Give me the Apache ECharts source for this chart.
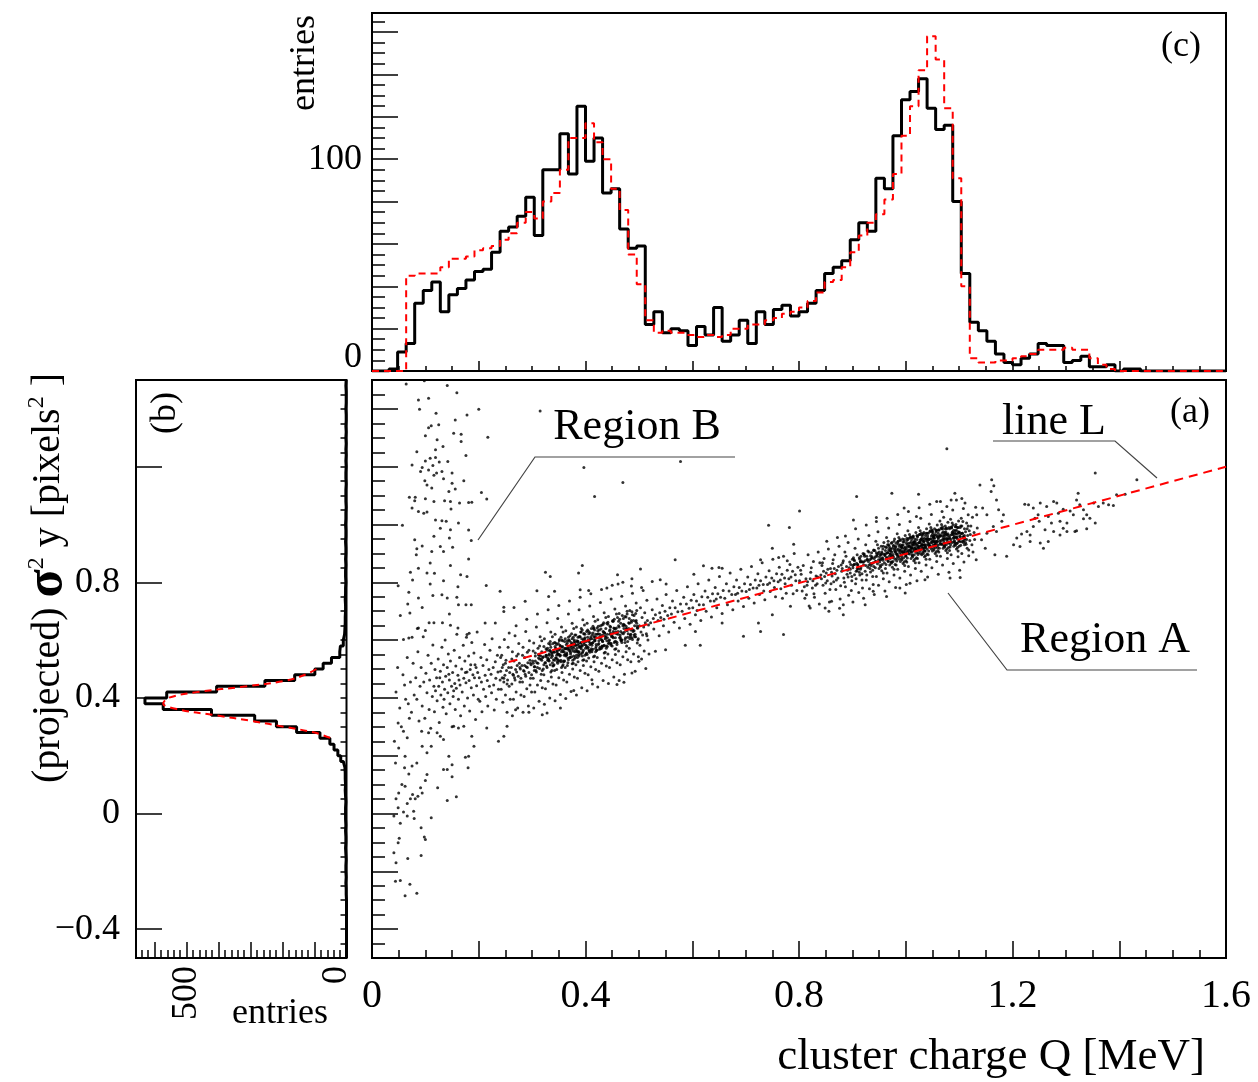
<!DOCTYPE html>
<html><head><meta charset="utf-8">
<script src="https://cdn.jsdelivr.net/npm/echarts@6/dist/echarts.min.js"></script>
<style>html,body{margin:0;padding:0;background:#fff}#c{width:1258px;height:1082px}</style>
</head><body><div id="c"></div>
<script>
// ---------- DATA ----------
// (c) top histogram: cluster charge Q, 100 bins of 0.016 MeV from 0
const topBinLo = 0, topBinW = 0.016;
const topBlack = [0,0,1,9,13,32,38,42,28,36, 39,43,47,48,56,66,68,73,82,64, 95,95,112,93,125,99,110,84,86,67, 58,59,22,28,18,20,19,12,21,17, 30,14,17,24,13,28,22,29,31,26, 28,32,38,46,49,52,62,70,66,91, 86,111,128,132,138,124,114,116,80,46, 23,19,14,8,4,3,6,8,13,12, 12,4,5,7,2,2,3,0,1,1, 0,0,0,0,0,0,0,0,0,0];
const topRed = [0,0,0,0,45,46,46,46,49,53, 53,54,57,58,59,62,65,70,75,72, 80,84,95,110,110,117,108,100,86,76, 55,41,24,18,19,18,18,17,16,17, 16,17,20,20,22,22,24,25,27,28, 30,33,37,42,43,49,56,64,70,74, 81,93,111,125,142,158,147,124,91,40, 6,4,4,5,5,6,7,8,10,10, 10,11,10,10,6,3,1,0,0,0, 0,0,0,0,0,0,0,0,0,0];
// (b) side histogram: projected sigma^2_y, 100 bins of 0.02 from -0.5
const sideBinLo = -0.5, sideBinW = 0.02;
const sideBlack = [0,0,0,0,0,0,0,0,0,0, 1,1,2,1,2,2,1,2,3,2, 2,3,2,3,3,3,2,3,4,3, 4,4,5,10,18,27,39,52,83,156, 219,287,422,573,630,562,406,255,162,99, 73,47,21,19,10,6,5,4,4,3, 3,4,3,3,2,3,3,2,3,2, 2,3,2,2,3,2,2,1,2,2, 2,1,2,2,1,2,1,2,1,2, 1,2,1,1,2,1,1,1,2,1];
const sideRedV = [0.50,0.48,0.46,0.44,0.42,0.40,0.38,0.36,0.34,0.32,0.30,0.28,0.26];
const sideRedN = [94,130,187,313,469,557,573,525,410,295,195,100,47];
// line L (fit)
const lineLQ = [0.256, 1.6];
const lineLV = [0.524, 1.2];
// tick labels
const mainXLabels = [0, 0.4, 0.8, 1.2, 1.6];
const sideYLabels = [-0.4, 0, 0.4, 0.8];
const topYLabels = [0, 100];
const sideXLabels = [0, 500];
// (a) scatter points, flat [Q, sigma2] pairs in units of 1/1000
const regionB = [64,1486,98,1497,141,1481,159,1456,87,1431,106,1437,89,1399,200,1399,120,1385,111,1342,125,1345,106,1335,156,1362,178,1379,100,1307,153,1316,167,1312,217,1302,167,1287,122,1293,133,1270,119,1259,84,1252,176,1239,100,1220,109,1229,119,1232,126,1216,142,1218,75,1206,94,1197,114,1204,91,1183,106,1189,131,1183,150,1178,121,1178,172,1151,99,1151,116,1170,134,1158,103,1137,150,1143,112,1126,144,1114,156,1123,205,1111,181,1076,187,1077,164,1074,147,1080,136,1082,100,1089,70,1094,81,1094,80,1082,116,1080,215,1088,75,1057,87,1045,97,1039,103,1043,148,1054,119,1016,131,1013,139,1011,128,987,147,982,162,1005,181,981,57,997,116,959,80,947,145,953,186,945,84,916,94,926,112,907,128,924,134,907,151,921,181,881,83,895,109,867,147,858,72,835,87,849,103,832,117,831,166,826,178,820,49,788,76,808,109,794,134,805,161,785,214,789,240,769,69,766,87,746,114,754,131,757,141,746,159,748,67,725,94,713,71,694,145,690,162,722,176,722,186,722,247,714,247,699,53,685,107,660,116,660,132,660,87,642,100,633,147,651,161,642,178,619,182,624,212,659,231,659,59,602,69,607];
const sprayLow = [49,313,59,285,66,262,42,250,50,227,62,198,44,175,61,158,75,164,84,175,94,233,103,210,111,233,128,267,122,279,134,256,106,279,153,302,162,296,172,302,187,267,191,233,181,198,215,296,253,302,247,267,237,250,144,198,134,152,141,152,150,169,150,127,103,135,100,114,91,89,94,71,86,60,81,51,76,66,72,51,66,35,69,137,62,94,56,100,50,71,45,51,41,-9,49,20,53,-34,51,-86,49,-101,59,5,66,-9,78,8,79,-17,92,-49,100,-90,98,-81,111,-15,123,89,141,45,158,58,180,158,175,195,41,-136,45,-170,44,-234,53,-232,71,-245,62,-285,84,-276,67,-156,92,-145];
const leftMid = [45,420,52,365,58,480,63,395,66,540,70,330,72,455,75,610,48,505,55,300,61,445,68,380,77,520,79,410,74,350,
82,470,84,395,86,560,88,320,90,440,92,505,94,372,96,612,97,455,99,330,101,485,103,418,105,548,107,360,108,462,110,295,111,520,113,405,114,583,116,440,117,352,118,498,119,425,85,640,93,285,
121,470,122,390,124,535,125,440,126,315,128,492,129,410,131,575,132,455,133,368,134,515,136,430,137,600,138,475,139,345,141,505,142,418,143,552,145,462,146,380,147,528,149,440,150,300,151,488,152,405,154,565,155,450,156,360,157,510,158,433,159,620,127,470,135,395,144,482,153,425,
161,478,162,395,164,540,165,445,166,338,168,500,169,420,171,582,172,468,173,372,174,528,176,452,177,610,178,490,179,400,181,545,182,460,183,355,185,515,186,435,187,592,189,480,190,410,191,555,192,470,194,325,195,505,196,442,197,628,198,488,199,395,163,462,175,488,184,498,193,515,
201,470,202,388,204,540,205,455,206,352,208,512,209,430,211,585,212,478,213,405,215,532,216,460,217,372,219,498,220,440,221,565,223,482,224,418,225,605,227,505,228,445,229,358,231,525,232,468,233,395,235,548,236,490,237,430,239,575,240,462];
const cluster1 = [241,492,242,430,243,548,244,470,245,385,246,515,247,455,248,602,249,478,250,410,251,530,252,495,253,350,254,462,255,575,256,505,257,440,258,488,259,395,241,540,244,505,247,468,250,520,253,448,257,625,
261,505,262,448,263,560,264,482,265,395,266,528,267,470,268,615,269,498,270,420,271,545,272,512,273,365,274,475,275,588,276,520,277,455,278,500,279,410,262,535,265,478,268,462,271,490,274,552,277,505,279,468,263,338,270,650,
281,512,282,455,283,575,284,495,285,405,286,540,287,482,288,630,289,508,290,432,291,558,292,522,293,372,294,488,295,598,296,530,297,468,298,515,299,420,282,548,285,492,288,475,291,505,294,565,297,520,299,480,283,350,290,672,286,512,296,445,
301,528,302,468,303,590,304,508,305,420,306,555,307,495,308,645,309,522,310,445,311,572,312,538,313,388,314,502,315,612,316,545,317,482,318,530,319,435,302,562,305,508,308,490,311,520,314,580,317,535,319,495,303,365,310,690,306,528,316,460,313,548,318,598,
321,542,322,480,323,605,324,522,325,432,326,570,327,510,328,660,329,538,330,458,331,588,332,552,333,400,334,515,335,628,336,560,337,495,338,545,339,448,322,578,325,522,328,505,331,535,334,595,337,550,339,510,323,378,330,705,326,542,336,472,333,565,338,612,321,500,327,548,332,528,335,490,329,572,340,532,
341,558,342,495,343,620,344,538,345,445,346,585,347,525,348,675,349,552,350,470,351,602,352,568,353,412,354,530,355,645,356,575,357,510,358,560,359,462,342,592,345,538,348,520,351,550,354,610,357,565,359,525,343,390,350,720,346,558,356,488,353,580,358,628,341,515,347,562,352,545,355,505,349,588,360,548,344,572,351,528,357,598,346,498,
361,570,362,505,363,632,364,548,365,455,366,598,367,538,368,690,369,565,370,482,371,615,372,580,373,422,374,542,375,658,376,588,377,520,378,572,379,472,362,605,365,550,368,532,371,562,374,622,377,578,379,535,363,398,370,735,366,570,376,500,373,592,378,640,361,528,367,575,372,558,375,518,369,600,380,560,364,585,371,540,377,610,366,512,362,552,374,568,379,595,
381,582,382,515,383,645,384,560,385,468,386,610,387,550,388,705,389,578,390,495,391,628,392,592,393,435,394,555,395,670,396,600,397,532,398,585,399,485,382,618,385,562,388,545,391,575,394,635,397,590,399,548,383,410,390,748,386,582,396,512,393,605,398,652,381,540,387,588,392,570,395,530,389,612,400,572,384,598,391,552,397,622,386,525,382,565,394,580,399,608,388,560,392,640,385,595,
401,595,402,528,403,658,404,572,405,480,406,622,407,562,408,718,409,590,410,508,411,640,412,605,413,448,414,568,415,682,416,612,417,545,418,598,419,498,402,630,405,575,408,558,411,588,414,648,417,602,419,560,403,425,410,760,406,595,416,525,413,618,418,665,401,552,407,600,412,582,415,542,409,625,420,585,404,610,411,565,417,635,406,538,402,578,414,592,419,620,
421,608,422,540,423,670,424,585,425,492,426,635,427,575,428,730,429,602,430,520,431,652,432,618,433,460,434,580,435,695,436,625,437,558,438,610,439,510,422,642,425,588,428,570,431,600,434,660,437,615,439,572,423,438,430,775,426,608,436,538,433,630,438,678,421,565,427,612,432,595,435,555,429,638,440,598,424,622,431,578,
441,620,442,552,443,682,444,598,445,505,446,648,447,588,448,742,449,615,450,532,451,665,452,630,453,472,454,592,455,708,456,638,457,570,458,622,459,522,442,655,445,600,448,582,451,612,454,672,457,628,459,585,443,450,450,790,446,620,456,550,453,642,458,690,441,578,447,625,452,608,455,568,
461,630,462,562,463,692,464,608,465,515,466,658,467,598,468,752,469,625,470,542,471,675,472,640,473,482,474,602,475,718,476,648,477,580,478,632,479,532,462,665,465,610,468,592,471,622,474,682,477,638,479,595,463,460,470,800,466,630,476,560,473,652,478,700,
481,640,482,572,483,702,484,618,485,525,486,668,487,608,488,762,489,635,490,552,491,685,492,650,493,492,494,612,495,728,496,658,497,590,498,642,499,542,482,675,485,620,488,602,491,632,494,692,497,648,499,605,
501,650,502,582,503,712,504,628,505,535,506,678,507,618,508,772,509,645,510,562,511,695,512,660,513,502,514,622,515,738,516,668,517,600,518,652,519,552,515,615,
394,858,325,835,334,820,387,832,503,846,460,826,487,812,551,794,540,809,525,803,505,782,486,787,461,794,440,780,406,772,390,774,342,769,331,751,309,771,287,734,266,713,
269,359,294,350,319,342,328,348,353,365,378,426,412,463,459,446,472,454,487,486,531,561,550,567,500,527];
const core1 = [332,548,335,575,338,522,341,560,344,590,347,535,350,566,353,548,356,600,359,528,362,572,365,555,368,610,371,540,374,585,377,562,380,618,383,548,386,596,389,575,392,628,395,560,398,605,401,582,404,635,407,565,410,612,413,590,416,642,419,572,422,620,425,598,428,650,431,580,434,628,437,605,440,658,443,588,446,636,449,612,452,665,455,595,458,642,461,620,464,672,467,602,470,650,473,628,476,680,479,610,482,658,485,635,488,688,491,618,494,664,497,642,
333,562,336,540,339,588,342,530,345,568,348,552,351,598,354,525,357,578,360,560,363,545,366,590,369,570,372,552,375,605,378,545,381,592,384,572,387,558,390,612,393,582,396,565,399,620,402,555,405,600,408,585,411,570,414,625,417,598,420,578,423,632,426,568,429,612,432,596,435,582,438,640,441,608,444,590,447,645,450,580,453,625,456,608,459,592,462,650,465,618,468,600,471,655,474,592,477,640,480,622,483,605,486,662,489,630,492,612,495,668,498,600,
331,530,334,585,337,555,340,512,343,578,346,548,349,530,352,582,355,560,358,515,361,595,364,570,367,522,370,598,373,575,376,530,379,600,382,582,385,540,388,612,391,590,394,545,397,622,400,598,403,550,406,630,409,605,412,560,415,640,418,612,421,565,424,648,427,620,430,572,433,655,436,625,439,580,442,662,445,632,448,588,451,668,454,640,457,595,460,678,463,645,466,600,469,685,472,652,475,608,478,690,481,660,484,612,487,698,490,668,493,620,496,702,
302,520,306,545,310,505,314,535,318,560,322,515,326,548,329,530,304,495,312,550,320,540,328,565];
const bridge = [522,660,525,705,528,638,531,688,534,742,536,668,538,615,539,695,527,675,
541,678,544,720,546,650,549,700,551,758,554,685,556,628,558,712,547,672,
561,690,563,735,566,662,568,712,571,772,573,698,576,642,578,725,
581,700,584,748,586,675,589,725,591,785,594,710,596,655,598,738,
601,712,603,758,606,688,608,735,611,795,613,722,616,668,618,750,609,702,
621,722,624,770,626,700,629,748,631,808,634,735,636,680,638,760,
641,735,643,782,646,712,648,760,651,820,653,748,656,692,658,772,645,742,
661,745,664,795,666,722,669,770,671,832,674,758,676,705,678,785,
681,758,683,808,686,735,688,782,691,845,693,770,696,716,698,795,685,762,
701,768,704,818,706,745,709,792,711,855,714,780,716,728,718,808,707,775,
721,780,723,830,726,758,728,805,731,868,733,792,736,740,738,818,725,790,734,770,
741,792,744,840,746,768,749,815,751,880,753,805,756,750,758,830,745,798,754,782,
761,802,763,852,766,778,768,828,771,890,773,815,776,762,778,842,765,808,774,795,769,745,
781,812,783,862,786,790,788,838,791,900,793,826,796,772,798,852,785,818,794,805,789,760,
568,878,621,857,637,849,650,851,656,849,603,828,
743,997,782,990,801,1047,790,932,750,918,762,886,778,875,728,878,587,582,615,582,606,630,696,613,728,630,771,619,656,659,724,659,750,688,784,717];
const cluster2 = [801,805,803,842,806,770,808,858,811,745,813,812,815,790,817,895,819,718,804,828,810,785,816,802,
821,812,823,850,825,780,827,872,829,748,832,822,834,795,836,905,838,725,822,835,826,805,831,790,835,818,839,868,828,760,
841,825,843,858,845,790,847,882,849,762,851,832,853,805,855,915,857,732,859,848,842,812,846,838,850,798,854,845,858,775,844,868,848,820,852,942,856,700,
861,835,863,865,865,802,867,895,869,775,871,842,873,815,875,925,877,742,879,860,862,822,866,848,870,808,874,855,878,788,864,878,868,830,872,955,876,710,860,795,880,838,
881,848,883,875,884,815,886,905,887,785,889,855,890,828,892,938,893,755,895,870,896,832,897,862,899,820,882,868,885,800,888,890,891,842,894,850,898,772,900,880,883,722,887,960,892,818,896,845,899,805,
901,858,902,885,904,826,905,918,906,795,908,866,909,840,911,950,912,765,914,880,915,845,917,872,918,830,920,900,903,878,907,812,910,860,913,835,916,890,919,780,901,732,906,985,911,848,915,870,918,808,904,862,909,895,914,825,
921,870,922,898,924,838,925,930,926,808,928,878,929,852,931,962,932,778,934,892,935,858,937,884,938,842,940,912,923,890,927,825,930,872,933,848,936,902,939,792,921,745,926,998,931,860,935,882,938,820,924,875,929,908,934,836,937,865,940,855,
941,882,942,910,943,850,944,942,945,820,946,890,947,864,948,975,949,790,950,905,951,870,952,896,953,854,954,925,955,840,956,885,957,915,958,832,959,898,960,868,941,758,945,1010,949,878,952,858,955,905,958,812,943,888,947,930,950,848,953,880,956,862,959,938,944,872,948,900,954,895,957,876,
961,892,962,922,963,862,964,955,965,832,966,902,967,875,968,988,969,802,970,918,971,882,972,908,973,866,974,938,975,852,976,896,977,928,978,845,979,910,980,880,961,770,965,1022,969,890,972,870,975,918,978,825,963,900,967,942,970,860,973,892,976,872,979,950,964,885,968,912,974,905,977,888,962,848,966,930,971,898,980,862,
981,905,982,935,983,874,984,968,985,845,986,915,987,888,988,1000,989,815,990,930,991,895,992,920,993,878,994,950,995,865,996,908,997,940,998,858,999,922,1000,892,981,782,985,1035,989,902,992,882,995,930,998,838,983,912,987,955,990,872,993,905,996,885,999,962,984,898,988,925,994,918,997,900,982,860,986,942,991,910,1000,875,985,890,989,948,993,925,997,870,981,925,999,905,
1001,915,1002,945,1003,884,1004,978,1005,855,1006,925,1007,898,1008,1010,1009,825,1010,940,1011,905,1012,930,1013,888,1014,960,1015,875,1016,918,1017,950,1018,868,1019,932,1020,902,1001,792,1005,1045,1009,912,1012,892,1015,940,1018,848,1003,922,1007,965,1010,882,1013,915,1016,895,1019,972,1004,908,1008,935,1014,928,1017,910,1002,870,1006,952,1011,920,1020,885,1005,900,1009,958,1013,935,1017,880,1001,935,1019,915,1003,905,1007,925,1011,948,1015,908,1018,938,1010,918,
1021,928,1022,958,1023,896,1024,990,1025,868,1026,938,1027,910,1028,1022,1029,838,1030,952,1031,918,1032,942,1033,900,1034,972,1035,888,1036,930,1037,962,1038,880,1039,945,1040,915,1021,805,1025,1058,1029,925,1032,905,1035,952,1038,860,1023,935,1027,978,1030,895,1033,928,1036,908,1039,985,1024,920,1028,948,1034,940,1037,922,1022,882,1026,965,1031,932,1040,898,1025,912,1029,970,1033,948,1037,892,1021,948,1039,928,1023,918,1027,938,1031,960,1035,920,1038,950,1030,930,1026,925,1034,912,1028,900,
1041,940,1042,970,1043,908,1044,1002,1045,880,1046,950,1047,922,1048,1035,1049,850,1050,965,1051,930,1052,955,1053,912,1054,985,1055,900,1056,942,1057,975,1058,892,1059,958,1060,928,1041,818,1045,1070,1049,938,1052,918,1055,965,1058,872,1043,948,1047,990,1050,908,1053,940,1056,920,1059,998,1044,932,1048,960,1054,952,1057,935,1042,895,1046,978,1051,945,1060,910,1045,925,1049,982,1053,962,1057,905,1041,960,1059,940,1043,930,1047,950,1051,972,1055,932,1058,962,1050,942,
1061,950,1062,980,1063,918,1064,1012,1065,890,1066,960,1067,932,1068,1045,1069,860,1070,975,1071,940,1072,965,1073,922,1074,995,1075,910,1076,952,1077,985,1078,902,1079,968,1080,938,1061,828,1065,1080,1069,948,1072,928,1075,975,1078,882,1063,958,1067,1000,1070,918,1073,950,1076,930,1079,1008,1064,942,1068,970,1074,962,1077,945,1062,905,1066,988,1071,955,1080,920,1065,935,1069,992,1073,972,1077,915,1061,970,1079,950,1071,1025,
1081,955,1082,985,1083,922,1084,1018,1085,895,1086,965,1087,938,1088,1050,1089,865,1090,980,1091,945,1092,970,1093,928,1094,1000,1095,915,1096,958,1097,990,1098,908,1099,972,1100,942,1081,835,1085,1085,1089,952,1092,932,1095,980,1098,888,1083,962,1087,1005,1090,925,1093,955,1096,935,1099,1012,1084,948,1088,975,1094,968,1097,950,1082,910,1086,992,1091,960,1100,925,1085,940,1089,998,1093,978,1097,920,
1101,960,1102,990,1103,928,1104,1022,1105,900,1106,970,1107,942,1108,1055,1109,870,1110,985,1111,950,1112,975,1113,932,1114,1005,1115,918,1116,962,1117,995,1118,912,1119,978,1120,945,1101,842,1105,1090,1109,958,1112,938,1115,985,1118,892,1103,968,1107,1010,1110,930,1114,948,
1121,965,1122,995,1124,930,1125,1025,1126,905,1128,972,1129,948,1131,1060,1132,878,1134,988,
902,1016,908,1097,974,1108,1024,1105,1092,1108,1095,1085,945,1024,997,1057,1020,1028,1058,1080,1077,1062,1111,1074,1117,1034,1133,1034,1144,1057,1152,1034,
821,711,814,757,849,711,883,688,924,722,964,751,989,780,1008,797,1036,809,1083,815,1102,817,999,763,939,769,861,734];
const core2 = [961,895,964,920,967,872,970,908,973,935,976,885,979,915,982,898,985,940,988,880,991,922,994,905,997,948,1000,890,1003,930,1006,912,1009,955,1012,895,1015,938,1018,920,1021,962,1024,902,1027,945,1030,928,1033,968,1036,908,1039,950,1042,935,1045,975,1048,915,1051,958,1054,940,1057,980,1060,920,1063,962,1066,945,1069,985,1072,925,1075,968,1078,950,1081,990,1084,930,1087,972,1090,955,1093,992,1096,935,1099,975,1102,958,1105,995,1108,938,
962,910,965,885,968,930,971,898,974,870,977,925,980,905,983,882,986,932,989,912,992,890,995,940,998,918,1001,898,1004,948,1007,925,1010,905,1013,955,1016,932,1019,910,1022,960,1025,938,1028,915,1031,965,1034,942,1037,920,1040,970,1043,948,1046,925,1049,975,1052,952,1055,930,1058,980,1061,955,1064,932,1067,985,1070,960,1073,935,1076,988,1079,962,1082,938,1085,990,1088,965,1091,940,1094,992,1097,968,1100,942,1103,995,1106,970,1109,945,
963,880,966,902,969,925,972,915,975,890,978,942,981,920,984,895,987,908,990,945,993,928,996,900,999,912,1002,952,1005,935,1008,908,1011,920,1014,958,1017,942,1020,912,1023,925,1026,965,1029,948,1032,918,1035,930,1038,970,1041,952,1044,922,1047,938,1050,978,1053,958,1056,928,1059,942,1062,982,1065,962,1068,932,1071,948,1074,985,1077,965,1080,935,1083,952,1086,988,1089,970,1092,938,1095,955,1098,990,1101,972,1104,940,1107,958,1110,962,
901,850,904,875,907,838,910,862,913,885,916,850,919,870,922,895,925,858,928,880,931,905,934,865,937,888,940,910,943,872,946,895,949,918,952,878,955,900,958,925,903,862,909,848,915,872,921,860,927,890,933,878,939,868,945,902,951,888,957,882];
const tail = [1139,1137,1161,1155,1165,1134,1160,1114,1170,1085,1174,1051,1183,1034,1180,1011,1164,993,1152,970,1170,976,1142,947,1149,918,1167,895,1189,890,1202,930,1214,924,1223,1070,1230,1068,1239,1057,1252,1074,1248,1034,1242,1022,1264,1062,1267,1028,1277,1080,1283,1074,1286,1039,1289,1011,1295,987,1302,976,1277,976,1267,941,1258,918,1252,936,1233,964,1233,941,1239,993,1227,976,1217,967,1208,953,1320,1085,1326,1068,1333,1051,1339,1034,1345,1022,1352,1074,1361,1062,1370,1074,1380,1068,1389,1066,1395,1103,1323,1108,1333,1020,1339,985,1355,1005,1302,1005,1317,976,1289,964,1320,978,1411,1105,1295,1053,1308,1047,1314,1034,1250,1011,1273,1005,1261,982];
const outliers = [315,1393,397,1197,470,1145,417,1097,578,1218,1077,1262,1355,1178,1433,1155];

// ---------- BUILD ----------
const FF = '"Liberation Serif","Times New Roman",Times,serif';
function pairs(a){const o=[];for(let i=0;i<a.length;i+=2)o.push([a[i]/1000,a[i+1]/1000]);return o;}
const scatterData = [].concat(pairs(regionB),pairs(sprayLow),pairs(leftMid),pairs(cluster1),pairs(core1),pairs(bridge),pairs(cluster2),pairs(core2),pairs(tail),pairs(outliers));
const topBlackLine=[], topRedLine=[];
for(let i=0;i<topBlack.length;i++){const lo=topBinLo+i*topBinW, hi=lo+topBinW;
  topBlackLine.push([lo,topBlack[i]],[hi,topBlack[i]]); topRedLine.push([lo,topRed[i]],[hi,topRed[i]]);}
const sideBlackLine=[];
for(let k=0;k<sideBlack.length;k++){const lo=sideBinLo+k*sideBinW, hi=lo+sideBinW; sideBlackLine.push([sideBlack[k],lo],[sideBlack[k],hi]);}
const sideRed = sideRedV.map((v,i)=>[sideRedN[i],v]);
const lineL = lineLQ.map((q,i)=>[q,lineLV[i]]);

function rng(a,b,s){const o=[];const n=Math.round((b-a)/s);for(let i=0;i<=n;i++)o.push(+(a+i*s).toFixed(4));return o;}
function fmt(v){return (v<0?'\u2212':'')+String(+Math.abs(v).toFixed(2));}
function ax(o){return Object.assign({type:'value',axisLine:{show:false,onZero:false},splitLine:{show:false},axisLabel:{show:false},axisTick:{show:false},axisPointer:{show:false},name:''},o);}
function tk(vals,len){return {show:true,inside:true,length:len,customValues:vals,lineStyle:{color:'#000',width:1.5}};}
function lab(vals,size,margin,extra){return Object.assign({show:true,customValues:vals,fontSize:size,fontFamily:FF,color:'#000',margin:margin,formatter:fmt},extra||{});}

const chart = echarts.init(document.getElementById('c'),null,{renderer:'canvas'});
const gridBase = {show:true,borderColor:'#000',borderWidth:2,backgroundColor:'transparent',containLabel:false,outerBoundsMode:'none'};
chart.setOption({
  animation:false,
  backgroundColor:'#fff',
  grid:[
    Object.assign({left:372,top:380,width:854,height:578},gridBase),
    Object.assign({left:372,top:13,width:854,height:358},gridBase),
    Object.assign({left:136,top:380,width:210.5,height:578},gridBase)
  ],
  xAxis:[
    ax({gridIndex:0,min:0,max:1.6,position:'bottom',axisTick:tk(rng(0,1.6,0.2),17),axisLabel:lab(mainXLabels,40,18)}),
    ax({gridIndex:0,min:0,max:1.6,position:'bottom',axisTick:tk(rng(0,1.6,0.05),8)}),
    ax({gridIndex:1,min:0,max:1.6,position:'bottom',axisTick:tk(rng(0,1.6,0.2),10)}),
    ax({gridIndex:1,min:0,max:1.6,position:'bottom',axisTick:tk(rng(0,1.6,0.05),5)}),
    ax({gridIndex:2,min:0,max:658,inverse:true,position:'bottom',axisTick:tk(rng(0,600,100),16),
       axisLabel:lab(sideXLabels,36,8,{rotate:90,formatter:v=>v===0?'{z|0}':String(v),rich:{z:{fontSize:36,fontFamily:FF,padding:[0,0,20,0]}}})}),
    ax({gridIndex:2,min:0,max:658,inverse:true,position:'bottom',axisTick:tk(rng(0,640,20),8)})
  ],
  yAxis:[
    ax({gridIndex:0,min:-0.5,max:1.5,position:'left',axisTick:tk(rng(-0.4,1.4,0.2),26)}),
    ax({gridIndex:0,min:-0.5,max:1.5,position:'left',axisTick:tk(rng(-0.5,1.5,0.05),13)}),
    ax({gridIndex:1,min:0,max:169,position:'left',axisTick:tk(rng(0,160,20),26),
       axisLabel:lab(topYLabels,36,10,{formatter:v=>v===0?'{z|0}':String(v),rich:{z:{fontSize:36,fontFamily:FF,padding:[0,0,26,0]}}})}),
    ax({gridIndex:1,min:0,max:169,position:'left',axisTick:tk(rng(0,165,5),13)}),
    ax({gridIndex:2,min:-0.5,max:1.5,position:'left',axisTick:tk([-0.4,0,0.4,0.8,1.2],26),axisLabel:lab(sideYLabels,36,16)}),
    ax({gridIndex:2,min:-0.5,max:1.5,position:'right',axisTick:tk(rng(-0.5,1.5,0.05),6)})
  ],
  series:[
    {type:'scatter',xAxisIndex:0,yAxisIndex:0,data:scatterData,symbol:'circle',symbolSize:3,itemStyle:{color:'#000'},silent:true,emphasis:{disabled:true}},
    {type:'line',xAxisIndex:0,yAxisIndex:0,data:lineL,symbol:'none',silent:true,lineStyle:{color:'#f00',width:2,type:[9,6]}},
    {type:'line',xAxisIndex:2,yAxisIndex:2,data:topBlackLine,symbol:'none',silent:true,lineStyle:{color:'#000',width:3}},
    {type:'line',xAxisIndex:2,yAxisIndex:2,data:topRedLine,symbol:'none',silent:true,lineStyle:{color:'#f00',width:2,type:[7,5]}},
    {type:'line',xAxisIndex:4,yAxisIndex:4,data:sideBlackLine,symbol:'none',silent:true,lineStyle:{color:'#000',width:3}},
    {type:'line',xAxisIndex:4,yAxisIndex:4,data:sideRed,symbol:'none',smooth:0.35,silent:true,lineStyle:{color:'#f00',width:2,type:[7,5]}}
  ],
  graphic:[
    {type:'text',x:48,y:578,rotation:Math.PI/2,silent:true,style:{text:'{a|(projected) }{s|σ}{p|2}{a| y [pixels}{p|2}{a| ]}',
      rich:{a:{fontSize:40,fontFamily:FF,fill:'#000',color:'#000'},s:{fontSize:52,fontWeight:'bold',fontFamily:FF,fill:'#000',color:'#000'},p:{fontSize:24,fontFamily:FF,fill:'#000',color:'#000',padding:[0,0,22,0]}},
      align:'center',textAlign:'center',verticalAlign:'middle',textVerticalAlign:'middle',fill:'#000'}},
    {type:'text',x:305,y:63,rotation:Math.PI/2,silent:true,style:{text:'entries',fontSize:36,fontFamily:FF,fill:'#000',align:'center',textAlign:'center',verticalAlign:'middle',textVerticalAlign:'middle'}},
    {type:'text',x:280,y:1014,silent:true,style:{text:'entries',fontSize:36,fontFamily:FF,fill:'#000',align:'center',textAlign:'center',verticalAlign:'middle',textVerticalAlign:'middle'}},
    {type:'text',x:1205,y:1057,silent:true,style:{text:'cluster charge Q [MeV]',fontSize:45,fontFamily:FF,fill:'#000',align:'right',textAlign:'right',verticalAlign:'middle',textVerticalAlign:'middle'}},
    {type:'text',x:637,y:427,silent:true,style:{text:'Region B',fontSize:44,fontFamily:FF,fill:'#000',align:'center',textAlign:'center',verticalAlign:'middle',textVerticalAlign:'middle'}},
    {type:'text',x:1054,y:422,silent:true,style:{text:'line L',fontSize:44,fontFamily:FF,fill:'#000',align:'center',textAlign:'center',verticalAlign:'middle',textVerticalAlign:'middle'}},
    {type:'text',x:1105,y:640,silent:true,style:{text:'Region A',fontSize:44,fontFamily:FF,fill:'#000',align:'center',textAlign:'center',verticalAlign:'middle',textVerticalAlign:'middle'}},
    {type:'text',x:1190,y:413,silent:true,style:{text:'(a)',fontSize:36,fontFamily:FF,fill:'#000',align:'center',textAlign:'center',verticalAlign:'middle',textVerticalAlign:'middle'}},
    {type:'text',x:1181,y:47,silent:true,style:{text:'(c)',fontSize:36,fontFamily:FF,fill:'#000',align:'center',textAlign:'center',verticalAlign:'middle',textVerticalAlign:'middle'}},
    {type:'text',x:166,y:413,rotation:Math.PI/2,silent:true,style:{text:'(b)',fontSize:36,fontFamily:FF,fill:'#000',align:'center',textAlign:'center',verticalAlign:'middle',textVerticalAlign:'middle'}},
    {type:'polyline',silent:true,shape:{points:[[478,540],[535,457],[735,457]]},style:{stroke:'#444',lineWidth:1.2,fill:null}},
    {type:'polyline',silent:true,shape:{points:[[993,441],[1115,441],[1157,478]]},style:{stroke:'#444',lineWidth:1.2,fill:null}},
    {type:'polyline',silent:true,shape:{points:[[948,593],[1007,670],[1197,670]]},style:{stroke:'#444',lineWidth:1.2,fill:null}}
  ]
});
</script></body></html>
